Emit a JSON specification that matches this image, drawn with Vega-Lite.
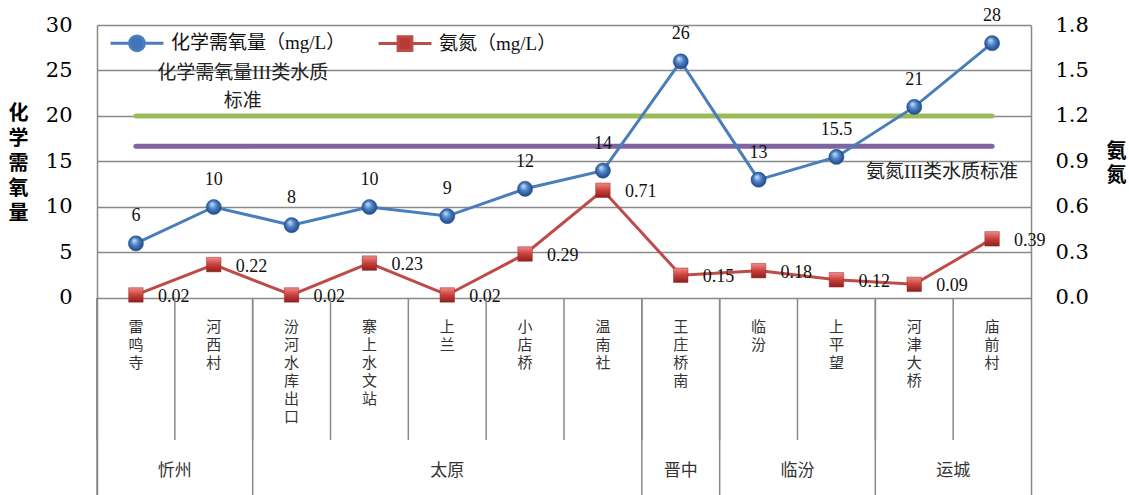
{
  "$schema": "https://vega.github.io/schema/vega-lite/v6.json",
  "width": 934,
  "height": 470,
  "autosize": {"type": "none"},
  "padding": {"left": 97, "top": 25, "right": 98, "bottom": 0},
  "background": "white",
  "config": {
    "view": {"stroke": null},
    "font": "Times New Roman, Liberation Serif, serif",
    "axis": {"labelFont": "DejaVu Serif", "labelFontSize": 21, "labelColor": "#000"}
  },
  "datasets": {
    "stations": [
      {"station": "雷鸣寺", "group": "忻州", "cod": 6, "nh3": 0.02},
      {"station": "河西村", "group": "忻州", "cod": 10, "nh3": 0.22},
      {"station": "汾河水库出口", "group": "太原", "cod": 8, "nh3": 0.02},
      {"station": "寨上水文站", "group": "太原", "cod": 10, "nh3": 0.23},
      {"station": "上兰", "group": "太原", "cod": 9, "nh3": 0.02},
      {"station": "小店桥", "group": "太原", "cod": 12, "nh3": 0.29},
      {"station": "温南社", "group": "太原", "cod": 14, "nh3": 0.71},
      {"station": "王庄桥南", "group": "晋中", "cod": 26, "nh3": 0.15},
      {"station": "临汾", "group": "临汾", "cod": 13, "nh3": 0.18},
      {"station": "上平望", "group": "临汾", "cod": 15.5, "nh3": 0.12},
      {"station": "河津大桥", "group": "运城", "cod": 21, "nh3": 0.09},
      {"station": "庙前村", "group": "运城", "cod": 28, "nh3": 0.39}
    ],
    "groups": [
      {"group": "忻州", "first": "雷鸣寺", "anchor": "河西村", "count": 2},
      {"group": "太原", "first": "汾河水库出口", "anchor": "上兰", "count": 5},
      {"group": "晋中", "first": "王庄桥南", "anchor": "王庄桥南", "count": 1},
      {"group": "临汾", "first": "临汾", "anchor": "上平望", "count": 2},
      {"group": "运城", "first": "河津大桥", "anchor": "庙前村", "count": 2}
    ],
    "standards": [
      {"name": "化学需氧量III类水质\n标准", "value": 20},
      {"name": "氨氮III类水质标准", "value": 1.0}
    ]
  },
  "layer": [
    {
      "layer": [
        {
          "data": {"name": "stations"},
          "mark": {"type": "line", "color": "#8064A2", "strokeWidth": 5, "strokeCap": "round"},
          "encoding": {
            "x": {"field": "station", "type": "nominal", "axis": null,
                  "scale": {"type": "band", "paddingInner": 0, "paddingOuter": 0,
                            "domain": ["雷鸣寺","河西村","汾河水库出口","寨上水文站","上兰","小店桥","温南社","王庄桥南","临汾","上平望","河津大桥","庙前村"]}},
            "y": {"datum": 1.0, "type": "quantitative",
                  "scale": {"domain": [-1.299, 1.8], "nice": false, "zero": false},
                  "axis": {"orient": "right", "values": [0, 0.3, 0.6, 0.9, 1.2, 1.5, 1.8], "format": ".1f",
                           "grid": false, "ticks": false, "domain": true, "domainColor": "#898989", "domainWidth": 1.5,
                           "labelPadding": 24, "labelFont": "DejaVu Serif",
                           "title": ["氨", "氮"], "titleAngle": 0, "titleX": 85, "titleY": 116, "titleBaseline": "top",
                           "titleAlign": "center", "titleFont": "Noto Sans CJK SC", "titleFontWeight": "bold",
                           "titleFontSize": 20, "titleLineHeight": 24, "titleColor": "#000"}},
            "order": {"value": null}
          }
        },
        {
          "data": {"name": "standards"},
          "transform": [{"filter": "datum.value < 5"}],
          "mark": {"type": "text", "align": "right", "baseline": "middle", "dx": -13, "dy": 26, "fontSize": 19,
                   "font": "Times New Roman, Liberation Serif, Noto Sans CJK SC", "color": "#222"},
          "encoding": {
            "x": {"datum": "庙前村", "bandPosition": 1, "type": "nominal"},
            "y": {"field": "value", "type": "quantitative"},
            "text": {"field": "name"}
          }
        },
        {
          "data": {"name": "stations"},
          "mark": {"type": "line", "strokeWidth": 3},
          "encoding": {
            "x": {"field": "station", "type": "nominal"},
            "y": {"field": "nh3", "type": "quantitative"},
            "order": {"value": null},
            "color": {"datum": "氨氮（mg/L）", "type": "nominal",
                      "scale": {"domain": ["化学需氧量（mg/L）", "氨氮（mg/L）"], "range": ["#4A7EBB", "#BE4B48"]},
                      "legend": {"orient": "none", "legendX": 12, "legendY": -10, "direction": "horizontal", "title": null,
                                 "labelFont": "Times New Roman, Liberation Serif, Noto Sans CJK SC", "labelFontSize": 19, "labelColor": "#111",
                                 "labelLimit": 400, "symbolSize": 2800, "symbolStrokeWidth": 3, "labelOffset": 6,
                                 "columnPadding": 26,
                                 "encode": {"symbols": {"update": {
                                   "shape": {"signal": "datum.value === '化学需氧量（mg/L）' ? 'M-1,0L-0.28,0M0.28,0L1,0M-0.28,0A0.28,0.28,0,1,1,0.28,0A0.28,0.28,0,1,1,-0.28,0Z' : 'M-1,0L-0.26,0M0.26,0L1,0M-0.26,-0.26L0.26,-0.26L0.26,0.26L-0.26,0.26Z'"},
                                   "fill": {"signal": "datum.value === '化学需氧量（mg/L）' ? '#3F74B8' : '#B83A36'"},
                                   "stroke": {"signal": "datum.value === '化学需氧量（mg/L）' ? '#4A7EBB' : '#BE4B48'"},
                                   "strokeWidth": {"value": 3},
                                   "opacity": {"value": 1}
                                 }}}}}
          }
        },
        {
          "data": {"name": "stations"},
          "mark": {"type": "point", "shape": "square", "size": 210, "filled": true, "opacity": 1,
                   "stroke": "#9E2A27", "strokeWidth": 0.5,
                   "fill": {"gradient": "linear", "x1": 0, "y1": 0, "x2": 0, "y2": 1,
                            "stops": [{"offset": 0, "color": "#F08A86"}, {"offset": 0.5, "color": "#C8403C"}, {"offset": 1, "color": "#8E1F1C"}]}},
          "encoding": {
            "x": {"field": "station", "type": "nominal"},
            "y": {"field": "nh3", "type": "quantitative"}
          }
        },
        {
          "data": {"name": "stations"},
          "mark": {"type": "text", "align": "left", "baseline": "middle", "dx": 22, "dy": 2, "fontSize": 18,
                   "color": "#111"},
          "encoding": {
            "x": {"field": "station", "type": "nominal"},
            "y": {"field": "nh3", "type": "quantitative"},
            "text": {"field": "nh3", "type": "quantitative", "format": ".2f"}
          }
        }
      ]
    },
    {
      "layer": [
        {
          "data": {"name": "stations"},
          "mark": {"type": "rule", "color": "#898989", "strokeWidth": 1.5},
          "encoding": {
            "x": {"field": "station", "type": "nominal", "bandPosition": 0},
            "y": {"datum": 0, "type": "quantitative",
                  "scale": {"domain": [-21.65, 30], "nice": false, "zero": false},
                  "axis": {"orient": "left", "values": [0, 5, 10, 15, 20, 25, 30], "grid": true,
                           "gridColor": "#898989", "gridWidth": 1.5, "ticks": false, "domain": true,
                           "domainColor": "#898989", "domainWidth": 1.5,
                           "labelPadding": 25, "labelFont": "DejaVu Serif",
                           "title": ["化", "学", "需", "氧", "量"], "titleAngle": 0, "titleX": -79, "titleY": 78,
                           "titleBaseline": "top", "titleAlign": "center", "titleFont": "Noto Sans CJK SC",
                           "titleFontWeight": "bold", "titleFontSize": 20, "titleLineHeight": 25, "titleColor": "#000"}},
            "y2": {"datum": -15.6}
          }
        },
        {
          "data": {"name": "groups"},
          "mark": {"type": "rule", "color": "#898989", "strokeWidth": 1.5},
          "encoding": {
            "x": {"field": "first", "type": "nominal", "bandPosition": 0},
            "y": {"datum": 0, "type": "quantitative"},
            "y2": {"datum": -21.65}
          }
        },
        {
          "data": {"name": "stations"},
          "transform": [{"calculate": "split(datum.station, '')", "as": "chars"}],
          "mark": {"type": "text", "baseline": "top", "align": "center", "dy": 22, "fontSize": 15, "lineHeight": 18,
                   "font": "Noto Sans CJK SC", "color": "#333"},
          "encoding": {
            "x": {"field": "station", "type": "nominal"},
            "y": {"datum": 0, "type": "quantitative"},
            "text": {"field": "chars"}
          }
        },
        {
          "data": {"name": "groups"},
          "transform": [{"filter": "datum.count % 2 == 0"}],
          "mark": {"type": "text", "baseline": "middle", "align": "center", "fontSize": 17,
                   "font": "Noto Sans CJK SC", "color": "#333"},
          "encoding": {
            "x": {"field": "anchor", "type": "nominal", "bandPosition": 0},
            "y": {"datum": -19.0, "type": "quantitative"},
            "text": {"field": "group"}
          }
        },
        {
          "data": {"name": "groups"},
          "transform": [{"filter": "datum.count % 2 == 1"}],
          "mark": {"type": "text", "baseline": "middle", "align": "center", "fontSize": 17,
                   "font": "Noto Sans CJK SC", "color": "#333"},
          "encoding": {
            "x": {"field": "anchor", "type": "nominal", "bandPosition": 0.5},
            "y": {"datum": -19.0, "type": "quantitative"},
            "text": {"field": "group"}
          }
        },
        {
          "data": {"name": "stations"},
          "mark": {"type": "line", "color": "#9BBB59", "strokeWidth": 5, "strokeCap": "round"},
          "encoding": {
            "x": {"field": "station", "type": "nominal"},
            "y": {"datum": 20, "type": "quantitative"},
            "order": {"value": null}
          }
        },
        {
          "data": {"name": "standards"},
          "transform": [{"filter": "datum.value > 5"}],
          "mark": {"type": "text", "align": "center", "baseline": "bottom", "dx": -10, "dy": -33, "fontSize": 19,
                   "lineHeight": 28, "lineBreak": "\n", "font": "Times New Roman, Liberation Serif, Noto Sans CJK SC", "color": "#222"},
          "encoding": {
            "x": {"datum": "河西村", "bandPosition": 1, "type": "nominal"},
            "y": {"field": "value", "type": "quantitative"},
            "text": {"field": "name"}
          }
        },
        {
          "data": {"name": "stations"},
          "mark": {"type": "line", "strokeWidth": 3},
          "encoding": {
            "x": {"field": "station", "type": "nominal"},
            "y": {"field": "cod", "type": "quantitative"},
            "order": {"value": null},
            "color": {"datum": "化学需氧量（mg/L）", "type": "nominal"}
          }
        },
        {
          "data": {"name": "stations"},
          "mark": {"type": "point", "shape": "circle", "size": 230, "filled": true, "opacity": 1,
                   "stroke": "#24508F", "strokeWidth": 0.5,
                   "fill": {"gradient": "radial", "x1": 0.38, "y1": 0.3, "r1": 0.02, "x2": 0.5, "y2": 0.5, "r2": 0.55,
                            "stops": [{"offset": 0, "color": "#C6DDF7"}, {"offset": 0.45, "color": "#4A82C8"}, {"offset": 1, "color": "#1C3F78"}]}},
          "encoding": {
            "x": {"field": "station", "type": "nominal"},
            "y": {"field": "cod", "type": "quantitative"}
          }
        },
        {
          "data": {"name": "stations"},
          "mark": {"type": "text", "align": "center", "baseline": "alphabetic", "dy": -22, "fontSize": 18,
                   "color": "#111"},
          "encoding": {
            "x": {"field": "station", "type": "nominal"},
            "y": {"field": "cod", "type": "quantitative"},
            "text": {"field": "cod", "type": "quantitative"}
          }
        }
      ]
    }
  ],
  "resolve": {"scale": {"y": "independent"}}
}
